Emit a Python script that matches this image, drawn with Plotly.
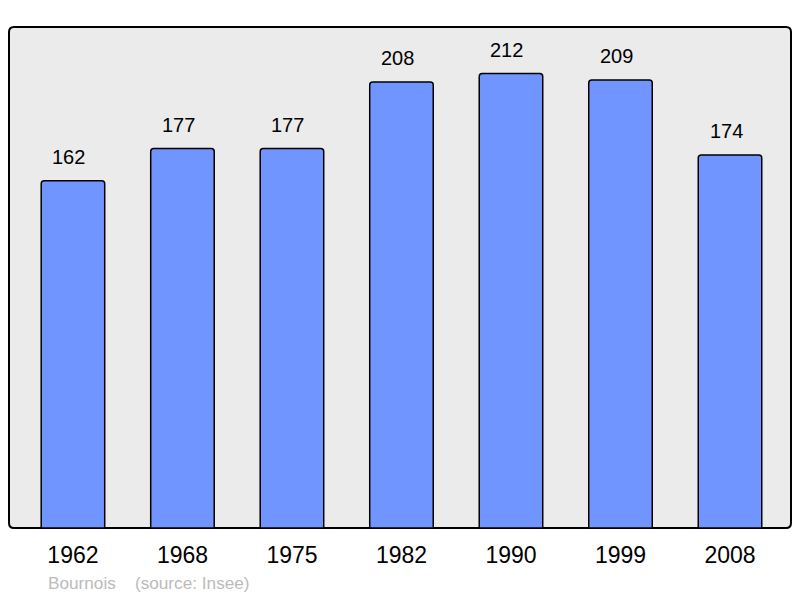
import plotly.graph_objects as go

years = ["1962", "1968", "1975", "1982", "1990", "1999", "2008"]
population = [162, 177, 177, 208, 212, 209, 174]
caption = "Bournois    (source: Insee)"

xs = list(range(len(years)))

fig = go.Figure()
fig.add_trace(go.Bar(
    x=xs, y=population, width=0.58,
    marker=dict(color="#7095ff", line=dict(color="#000000", width=1.5), cornerradius=3),
    hoverinfo="skip",
))

for x, v in zip(xs, population):
    fig.add_annotation(x=x, y=v, text=str(v), showarrow=False, yanchor="bottom",
                       yshift=11, xshift=-4, font=dict(family="Liberation Sans, Arial", size=20, color="#000"))

# rounded frame (paper coords = plot domain)
rx, ry = 5 / 782, 5 / 501
path = (f"M {rx},0 L {1-rx},0 Q 1,0 1,{ry} L 1,{1-ry} Q 1,1 {1-rx},1 "
        f"L {rx},1 Q 0,1 0,{1-ry} L 0,{ry} Q 0,0 {rx},0 Z")
fig.add_shape(type="path", xref="paper", yref="paper", path=path,
              line=dict(color="#000000", width=2), fillcolor="#ebebeb", layer="below")

fig.add_annotation(xref="paper", yref="paper", x=0.0473, y=-0.1098, xanchor="left", yanchor="middle",
                   text=caption, showarrow=False,
                   font=dict(family="Liberation Sans, Arial", size=17.2, color="#bbbbbb"))

fig.update_layout(
    width=800, height=598,
    margin=dict(l=1, r=17, t=19, b=78),
    paper_bgcolor="#ffffff", plot_bgcolor="#ffffff",
    showlegend=False,
    xaxis=dict(range=[-0.584, 6.557], tickvals=xs, ticktext=years, showgrid=False, zeroline=False,
               ticks="", ticklabelstandoff=11,
               tickfont=dict(family="Liberation Sans, Arial", size=23, color="#000")),
    yaxis=dict(range=[0, 233.7], showgrid=False, zeroline=False, showticklabels=False, ticks=""),
)

fig.write_html("out.html")
